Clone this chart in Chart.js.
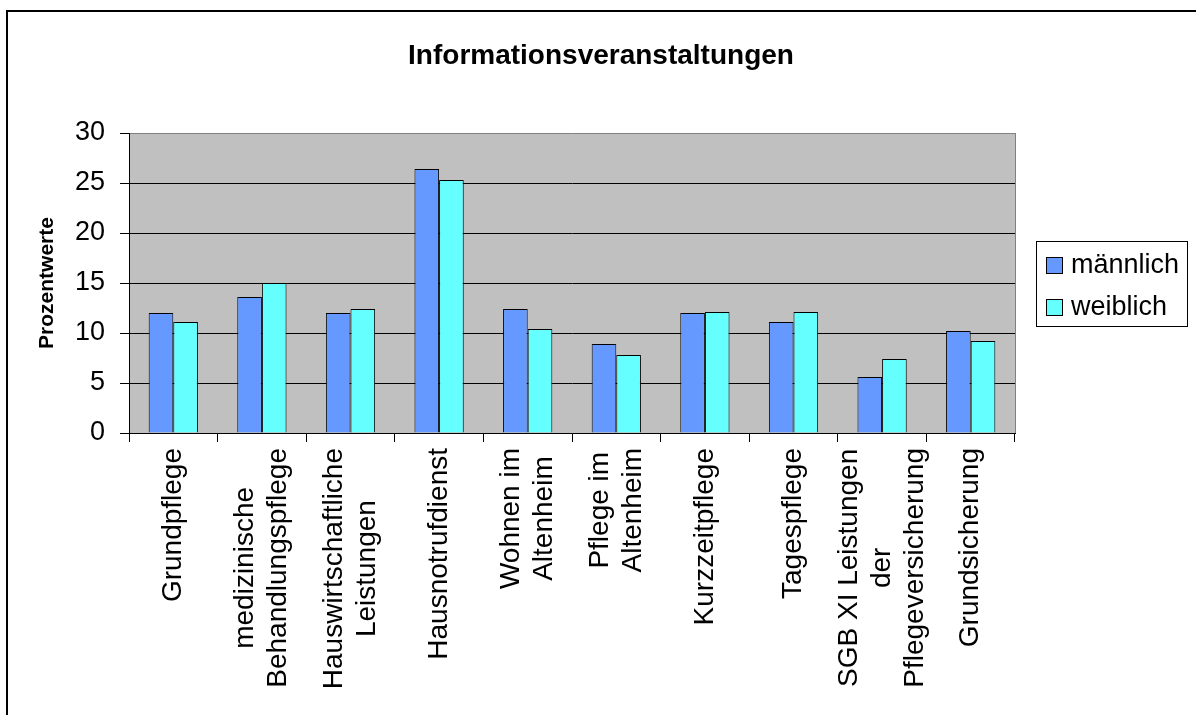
<!DOCTYPE html>
<html>
<head>
<meta charset="utf-8">
<title>Informationsveranstaltungen</title>
<script src="https://cdn.jsdelivr.net/npm/chart.js@4.4.0/dist/chart.umd.min.js"></script>
<style>
  html, body { margin: 0; padding: 0; background: #fff; overflow: hidden; }
  #frame { position: absolute; left: 6px; top: 10px; width: 1300px; height: 800px; border: 2px solid #000; box-sizing: border-box; }
  #wrap { position: absolute; left: 0; top: 0; width: 1196px; height: 715px; }
</style>
</head>
<body>
<div id="frame"></div>
<div id="wrap"><canvas id="chart" width="1196" height="715"></canvas></div>
<script>
// category labels, one entry per line of the rotated label
var categories = [
  ['Grundpflege'],
  ['medizinische', 'Behandlungspflege'],
  ['Hauswirtschaftliche', 'Leistungen'],
  ['Hausnotrufdienst'],
  ['Wohnen im', 'Altenheim'],
  ['Pflege im', 'Altenheim'],
  ['Kurzzeitpflege'],
  ['Tagespflege'],
  ['SGB XI Leistungen', 'der', 'Pflegeversicherung'],
  ['Grundsicherung']
];
var maleValues   = [12.0, 13.6, 12.0, 26.4, 12.4, 8.9, 12.0, 11.1, 5.6, 10.2];
var femaleValues = [11.1, 15.0, 12.4, 25.3, 10.4, 7.8, 12.1, 12.1, 7.4, 9.2];
var yTicks = [0, 5, 10, 15, 20, 25, 30];
var chartTitle = 'Informationsveranstaltungen';

var FONT = "'Liberation Sans', Arial, sans-serif";
Chart.defaults.font.family = FONT;
Chart.defaults.color = '#000';

// grey plot background and its right edge
var plotBackground = {
  id: 'plotBackground',
  beforeDraw: function(chart) {
    var a = chart.chartArea, ctx = chart.ctx;
    ctx.save();
    ctx.fillStyle = '#c0c0c0';
    ctx.fillRect(a.left, a.top, a.right - a.left, a.bottom - a.top);
    ctx.restore();
  },
  beforeDatasetsDraw: function(chart) {
    var a = chart.chartArea, ctx = chart.ctx;
    ctx.save();
    ctx.strokeStyle = '#808080';
    ctx.lineWidth = 1;
    ctx.beginPath();
    ctx.moveTo(Math.round(a.right) + 0.5, a.top);
    ctx.lineTo(Math.round(a.right) + 0.5, a.bottom);
    ctx.stroke();
    ctx.restore();
  }
};

// title centred on the whole frame, not the plot
var frameTitle = {
  id: 'frameTitle',
  afterDraw: function(chart) {
    var ctx = chart.ctx;
    ctx.save();
    ctx.font = 'bold 28px ' + FONT;
    ctx.fillStyle = '#000';
    ctx.textAlign = 'center';
    ctx.textBaseline = 'alphabetic';
    ctx.fillText(chartTitle, 601, 64);
    ctx.restore();
  }
};

// rotated, centred multi-line category labels
var categoryLabels = {
  id: 'categoryLabels',
  afterDraw: function(chart) {
    var ctx = chart.ctx, xScale = chart.scales.x;
    var lineHeight = 33;
    var top = xScale.top + 15;
    ctx.save();
    ctx.font = '28px ' + FONT;
    ctx.fillStyle = '#000';
    ctx.textAlign = 'center';
    ctx.textBaseline = 'middle';
    categories.forEach(function(lines, i) {
      var cx = xScale.getPixelForValue(i);
      var widest = 0;
      lines.forEach(function(l) { widest = Math.max(widest, ctx.measureText(l).width); });
      ctx.save();
      ctx.translate(cx, top);
      ctx.rotate(-Math.PI / 2);
      lines.forEach(function(l, j) {
        ctx.fillText(l, -widest / 2, (j - (lines.length - 1) / 2) * lineHeight);
      });
      ctx.restore();
    });
    ctx.restore();
  }
};

// boxed legend on the right
var boxLegend = {
  id: 'boxLegend',
  afterDraw: function(chart) {
    var ctx = chart.ctx;
    var x = 1036, y = 241, w = 151, h = 85;
    ctx.save();
    ctx.fillStyle = '#fff';
    ctx.fillRect(x, y, w, h);
    ctx.strokeStyle = '#000';
    ctx.lineWidth = 1;
    ctx.strokeRect(x + 0.5, y + 0.5, w, h);
    ctx.font = '27px ' + FONT;
    ctx.textBaseline = 'alphabetic';
    chart.data.datasets.forEach(function(ds, i) {
      var by = 257 + i * 42;
      ctx.fillStyle = ds.backgroundColor;
      ctx.fillRect(1046, by, 16, 16);
      ctx.strokeRect(1046.5, by + 0.5, 16, 16);
      ctx.fillStyle = '#000';
      ctx.fillText(ds.label, 1071, by + 16);
    });
    ctx.restore();
  }
};

new Chart(document.getElementById('chart'), {
  type: 'bar',
  data: {
    labels: categories.map(function(c) { return c.join(' '); }),
    datasets: [
      { label: 'männlich', data: maleValues, backgroundColor: '#6699ff', borderColor: '#000', borderWidth: 1 },
      { label: 'weiblich', data: femaleValues, backgroundColor: '#66ffff', borderColor: '#000', borderWidth: 1 }
    ]
  },
  options: {
    responsive: false,
    animation: false,
    devicePixelRatio: 1,
    layout: { padding: { left: 0, right: 181, top: 133, bottom: 0 } },
    datasets: { bar: { categoryPercentage: 0.556, barPercentage: 1.0 } },
    plugins: {
      legend: { display: false },
      tooltip: { enabled: false },
      title: { display: false }
    },
    scales: {
      x: {
        offset: true,
        grid: { offset: true, drawOnChartArea: false, drawTicks: true, tickLength: 9, color: '#000' },
        border: { color: '#000', width: 1 },
        ticks: { display: false },
        afterFit: function(scale) { scale.height = 282; }
      },
      y: {
        min: 0,
        max: 30,
        afterBuildTicks: function(scale) {
          scale.ticks = yTicks.map(function(v) { return { value: v }; });
        },
        grid: {
          color: function(c) { return c.tick && c.tick.value === 30 ? '#808080' : '#000'; },
          tickColor: '#000',
          tickLength: 9
        },
        border: { color: '#000', width: 1 },
        ticks: { font: { size: 27 }, color: '#000', padding: 15 },
        title: {
          display: true,
          text: 'Prozentwerte',
          color: '#000',
          font: { size: 21, weight: 'bold' },
          padding: { top: 35, bottom: 0 }
        },
        afterFit: function(scale) { scale.width = 129; }
      }
    }
  },
  plugins: [plotBackground, frameTitle, categoryLabels, boxLegend]
});
</script>
</body>
</html>
